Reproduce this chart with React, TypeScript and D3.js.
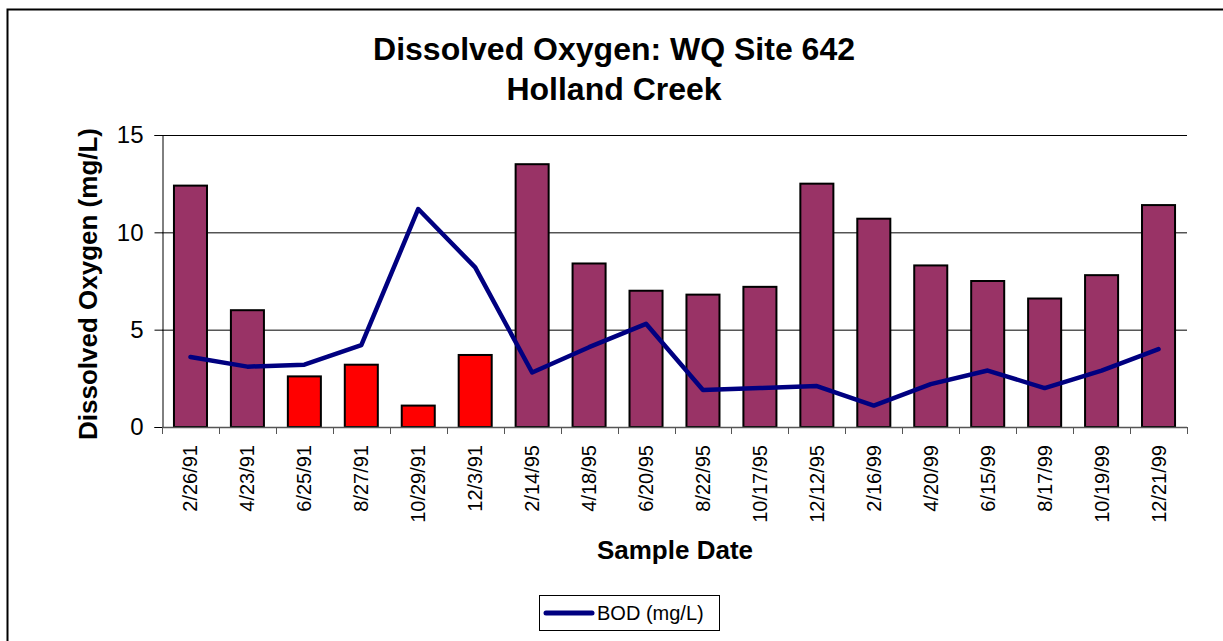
import React, { useEffect, useRef } from 'react'
import * as d3 from 'd3'

const dates = ['2/26/91', '4/23/91', '6/25/91', '8/27/91', '10/29/91', '12/3/91', '2/14/95', '4/18/95', '6/20/95',
    '8/22/95', '10/17/95', '12/12/95', '2/16/99', '4/20/99', '6/15/99', '8/17/99', '10/19/99', '12/21/99'];
const dissolvedOxygen = [12.4, 6.0, 2.6, 3.2, 1.1, 3.7, 13.5, 8.4, 7.0, 6.8, 7.2, 12.5, 10.7, 8.3, 7.5, 6.6, 7.8, 11.4];
const bod = [3.6, 3.1, 3.2, 4.2, 11.2, 8.2, 2.8, 4.1, 5.3, 1.9, 2.0, 2.1, 1.1, 2.2, 2.9, 2.0, 2.9, 4.0];
const yTicks = [0, 5, 10, 15];
// below 5 mg/L the bars are drawn red
const threshold = 5;

function App() {
    const ref = useRef<SVGSVGElement>(null);

    useEffect(() => {
        const svg = d3.select(ref.current);
        svg.selectAll('*').remove();
        const font = '"Liberation Sans", Arial, sans-serif';
        const margin = { left: 162, right: 1187, top: 135, bottom: 427 };

        // outer frame (only the top and left edges fall inside the picture)
        svg.append('path')
            .attr('d', 'M7.5,641V9.5H1223')
            .attr('fill', 'none').attr('stroke', '#000').attr('stroke-width', 2);

        const x = d3.scaleBand().domain(dates).range([margin.left, margin.right]).paddingInner(0.42).paddingOuter(0.21);
        const xb = d3.scaleBand().domain(dates).range([margin.left, margin.right]);
        const y = d3.scaleLinear().domain([0, 15]).range([margin.bottom, margin.top]);

        // gridlines
        svg.append('g').selectAll('line').data(yTicks.filter(t => t > 0)).enter()
            .append('line')
            .attr('x1', margin.left).attr('x2', margin.right)
            .attr('y1', d => y(d) + 0.5).attr('y2', d => y(d) + 0.5)
            .attr('stroke', '#000').attr('stroke-width', 1);

        // bars
        svg.append('g').selectAll('rect').data(dissolvedOxygen).enter()
            .append('rect')
            .attr('x', (d, i) => x(dates[i]))
            .attr('y', d => y(d))
            .attr('width', x.bandwidth())
            .attr('height', d => y(0) - y(d))
            .attr('fill', d => d < threshold ? '#FF0000' : '#993366')
            .attr('stroke', '#000').attr('stroke-width', 2);

        // axes
        const yAxis = svg.append('g').attr('transform', `translate(${margin.left + 0.5},0)`)
            .call(d3.axisLeft(y).tickValues(yTicks).tickSize(8).tickPadding(11));
        yAxis.select('.domain').attr('stroke', '#000');
        yAxis.selectAll('text').attr('font-family', font).attr('font-size', 24).attr('fill', '#000');

        svg.append('line')
            .attr('x1', margin.left).attr('x2', margin.right)
            .attr('y1', margin.bottom + 0.5).attr('y2', margin.bottom + 0.5)
            .attr('stroke', '#555').attr('stroke-width', 1.5);
        svg.append('g').selectAll('line').data(dates.concat(['end'])).enter()
            .append('line')
            .attr('x1', (d, i) => Math.round(margin.left + i * xb.bandwidth()) + 0.5)
            .attr('x2', (d, i) => Math.round(margin.left + i * xb.bandwidth()) + 0.5)
            .attr('y1', margin.bottom).attr('y2', margin.bottom + 7)
            .attr('stroke', '#555').attr('stroke-width', 1);

        svg.append('g').selectAll('text').data(dates).enter()
            .append('text')
            .attr('transform', d => `translate(${(xb(d) as number) + xb.bandwidth() / 2 + 7},445) rotate(-90)`)
            .attr('text-anchor', 'end')
            .attr('font-family', font).attr('font-size', 20)
            .text(d => d);

        // BOD line
        const line = d3.line<number>()
            .x((d, i) => (xb(dates[i]) as number) + xb.bandwidth() / 2)
            .y(d => y(d));
        svg.append('path').datum(bod)
            .attr('d', line)
            .attr('fill', 'none').attr('stroke', '#000080').attr('stroke-width', 4.5)
            .attr('stroke-linejoin', 'round').attr('stroke-linecap', 'round');

        // titles
        const title = svg.append('text').attr('text-anchor', 'middle')
            .attr('font-family', font).attr('font-size', 32).attr('font-weight', 'bold');
        title.append('tspan').attr('x', 614).attr('y', 60).text('Dissolved Oxygen: WQ Site 642');
        title.append('tspan').attr('x', 614).attr('y', 100).text('Holland Creek');

        svg.append('text')
            .attr('transform', `translate(97,${(margin.top + margin.bottom) / 2 + 3}) rotate(-90)`)
            .attr('text-anchor', 'middle')
            .attr('font-family', font).attr('font-size', 26).attr('font-weight', 'bold')
            .text('Dissolved Oxygen (mg/L)');

        svg.append('text')
            .attr('x', 675).attr('y', 559)
            .attr('text-anchor', 'middle')
            .attr('font-family', font).attr('font-size', 26).attr('font-weight', 'bold')
            .text('Sample Date');

        // legend
        const legend = svg.append('g');
        legend.append('rect')
            .attr('x', 539.5).attr('y', 595.5).attr('width', 180).attr('height', 35)
            .attr('fill', '#fff').attr('stroke', '#000').attr('stroke-width', 1);
        legend.append('line')
            .attr('x1', 546).attr('x2', 592).attr('y1', 613).attr('y2', 613)
            .attr('stroke', '#000080').attr('stroke-width', 5).attr('stroke-linecap', 'round');
        legend.append('text')
            .attr('x', 597).attr('y', 620)
            .attr('font-family', font).attr('font-size', 20)
            .text('BOD (mg/L)');
    }, []);

    return (
        <div style={{ position: 'absolute', left: 0, top: 0, width: 1223, height: 641, overflow: 'hidden' }}>
            <svg ref={ref} width={1223} height={641} style={{ display: 'block' }}></svg>
        </div>
    );
}

export default App;
